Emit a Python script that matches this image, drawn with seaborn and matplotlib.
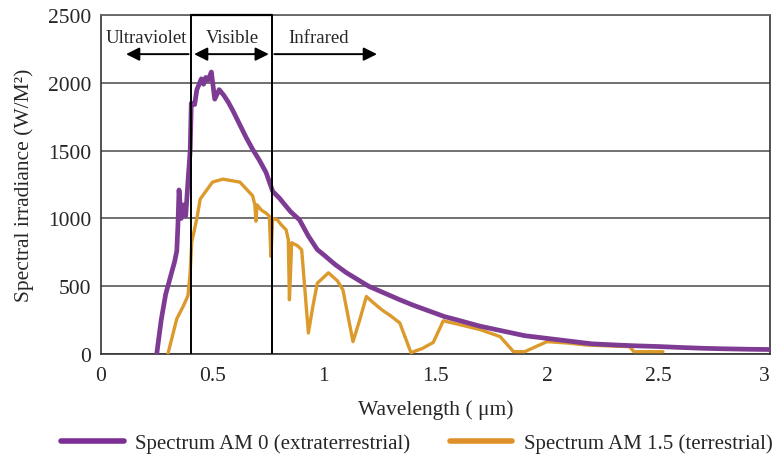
import numpy as np
import pandas as pd
import seaborn as sns
import matplotlib.pyplot as plt
from matplotlib.ticker import MultipleLocator

# solar spectrum values (wavelength in um, irradiance in W/m2)
am0_wl = [0.25, 0.27, 0.29, 0.31, 0.33, 0.34, 0.345, 0.35, 0.36, 0.37, 0.38, 0.39,
          0.40, 0.405, 0.42, 0.43, 0.45, 0.46, 0.47, 0.48, 0.495, 0.51, 0.53, 0.55,
          0.57, 0.59, 0.62, 0.65, 0.68, 0.71, 0.74, 0.77, 0.80, 0.85, 0.89, 0.93,
          0.97, 1.0, 1.05, 1.1, 1.15, 1.2, 1.27, 1.34, 1.4, 1.5, 1.54, 1.6, 1.7,
          1.8, 1.9, 2.0, 2.1, 2.2, 2.3, 2.4, 2.5, 2.6, 2.7, 2.8, 2.9, 3.0]
am0_irr = [0, 250, 440, 560, 680, 760, 950, 1210, 1000, 1100, 1020, 1270,
           1500, 1850, 1840, 1950, 2030, 1990, 2040, 2020, 2080, 1880, 1950, 1910,
           1860, 1800, 1700, 1600, 1510, 1430, 1340, 1200, 1150, 1050, 990, 870,
           770, 730, 660, 600, 550, 500, 450, 400, 360, 300, 276, 250, 205,
           170, 135, 115, 95, 75, 67, 60, 55, 48, 42, 38, 35, 33]

am15_wl = [0.30, 0.32, 0.34, 0.37, 0.39, 0.40, 0.407, 0.43, 0.445, 0.47, 0.50,
           0.547, 0.58, 0.623, 0.65, 0.68, 0.69, 0.695, 0.70, 0.72, 0.74, 0.755,
           0.762, 0.77, 0.79, 0.81, 0.83, 0.84, 0.845, 0.85, 0.855, 0.88, 0.90,
           0.93, 0.95, 0.97, 1.02, 1.06, 1.085, 1.13, 1.16, 1.19, 1.22, 1.26,
           1.3, 1.34, 1.39, 1.44, 1.49, 1.535, 1.6, 1.7, 1.79, 1.85, 1.90, 2.0,
           2.1, 2.17, 2.3, 2.37, 2.39, 2.52]
am15_irr = [0, 130, 260, 356, 430, 600, 826, 1000, 1143, 1200, 1268,
            1290, 1280, 1268, 1220, 1167, 1100, 979, 1100, 1060, 1040, 1016,
            720, 1000, 991, 950, 917, 843, 400, 600, 821, 800, 769,
            155, 350, 522, 599, 540, 473, 91, 250, 424, 380, 325,
            280, 229, 10, 40, 85, 245, 220, 180, 128, 17, 17, 91,
            80, 67, 58, 54, 17, 17]

x_ticks = [0, 0.5, 1, 1.5, 2, 2.5, 3]
x_labels = ['0', '0.5', '1', '1.5', '2', '2.5', '3']
y_ticks = [0, 500, 1000, 1500, 2000, 2500]
series_names = ['Spectrum AM 0 (extraterrestrial)', 'Spectrum AM 1.5 (terrestrial)']
uv_edge = 0.405
ir_edge = 0.765

sns.set_style('white')
plt.rcParams['font.family'] = ['Liberation Serif', 'DejaVu Serif']

df0 = pd.DataFrame({'wl': am0_wl, 'irr': am0_irr, 'series': series_names[0]})
df15 = pd.DataFrame({'wl': am15_wl, 'irr': am15_irr, 'series': series_names[1]})

fig = plt.figure(figsize=(7.72, 4.6), dpi=100)
ax = fig.add_axes([0.1308, 0.2283, 0.8666, 0.7367])

sns.lineplot(data=df15, x='wl', y='irr', color='#dc9a2c', lw=2.4, ax=ax,
             sort=False, zorder=3)
sns.lineplot(data=df0, x='wl', y='irr', color='#7e3b93', lw=3.4, ax=ax,
             sort=False, zorder=4)

ax.set_xlim(0, 3)
ax.set_ylim(0, 2500)
ax.set_xticks(x_ticks)
ax.set_xticklabels(x_labels, fontsize=15.5)
ax.get_xticklabels()[-1].set_horizontalalignment('right')
ax.set_yticks(y_ticks)
ax.set_yticklabels([str(v) for v in y_ticks], fontsize=15.5)
ax.xaxis.set_minor_locator(MultipleLocator(0.1))
ax.yaxis.set_minor_locator(MultipleLocator(100))
ax.tick_params(which='major', direction='inout', length=6, width=1, color='#333')
ax.tick_params(which='minor', direction='in', length=3, width=1, color='#555')
ax.tick_params(axis='x', pad=6)
ax.tick_params(axis='y', pad=4)
ax.grid(axis='y', color='#666', lw=1.3)
ax.set_axisbelow(True)
for s in ['left', 'bottom', 'right']:
    ax.spines[s].set_color('#333')
    ax.spines[s].set_linewidth(1.2)
ax.spines['top'].set_color('#666')
ax.spines['top'].set_linewidth(1.3)

ax.set_xlabel('Wavelength ( μm)', fontsize=15.5, labelpad=10)
ax.set_ylabel('Spectral irradiance (W/M²)', fontsize=15.5, labelpad=10)

# region box and arrows
ax.axvline(uv_edge, color='black', lw=1.4, zorder=5)
ax.axvline(ir_edge, color='black', lw=1.4, zorder=5)
ax.plot([uv_edge, ir_edge], [2500, 2500], color='black', lw=1.6, zorder=5,
        clip_on=False)
arr = dict(arrowstyle='-|>', color='black', lw=1.4, mutation_scale=20)
ax.annotate('', xy=(0.10, 2212), xytext=(uv_edge, 2212), arrowprops=arr)
ax.annotate('', xy=(1.25, 2212), xytext=(ir_edge, 2212), arrowprops=arr)
ax.annotate('', xy=(uv_edge, 2212), xytext=(ir_edge, 2212),
            arrowprops=dict(arrowstyle='<|-|>', color='black', lw=1.4,
                            mutation_scale=20))
ax.text(0.205, 2338, 'Ultraviolet', ha='center', va='center', fontsize=13.5)
ax.text(0.59, 2338, 'Visible', ha='center', va='center', fontsize=13.5)
ax.text(0.975, 2338, 'Infrared', ha='center', va='center', fontsize=13.5)

handles = [plt.Line2D([], [], color='#7b2f94', lw=4),
           plt.Line2D([], [], color='#e0902a', lw=4)]
fig.legend(handles, series_names, loc='lower center', ncol=2, frameon=False,
           fontsize=15, handlelength=3.0, handletextpad=0.55,
           columnspacing=1.9, borderpad=0.15, bbox_to_anchor=(0.54, -0.017))

fig.savefig('out.png', dpi=100)
